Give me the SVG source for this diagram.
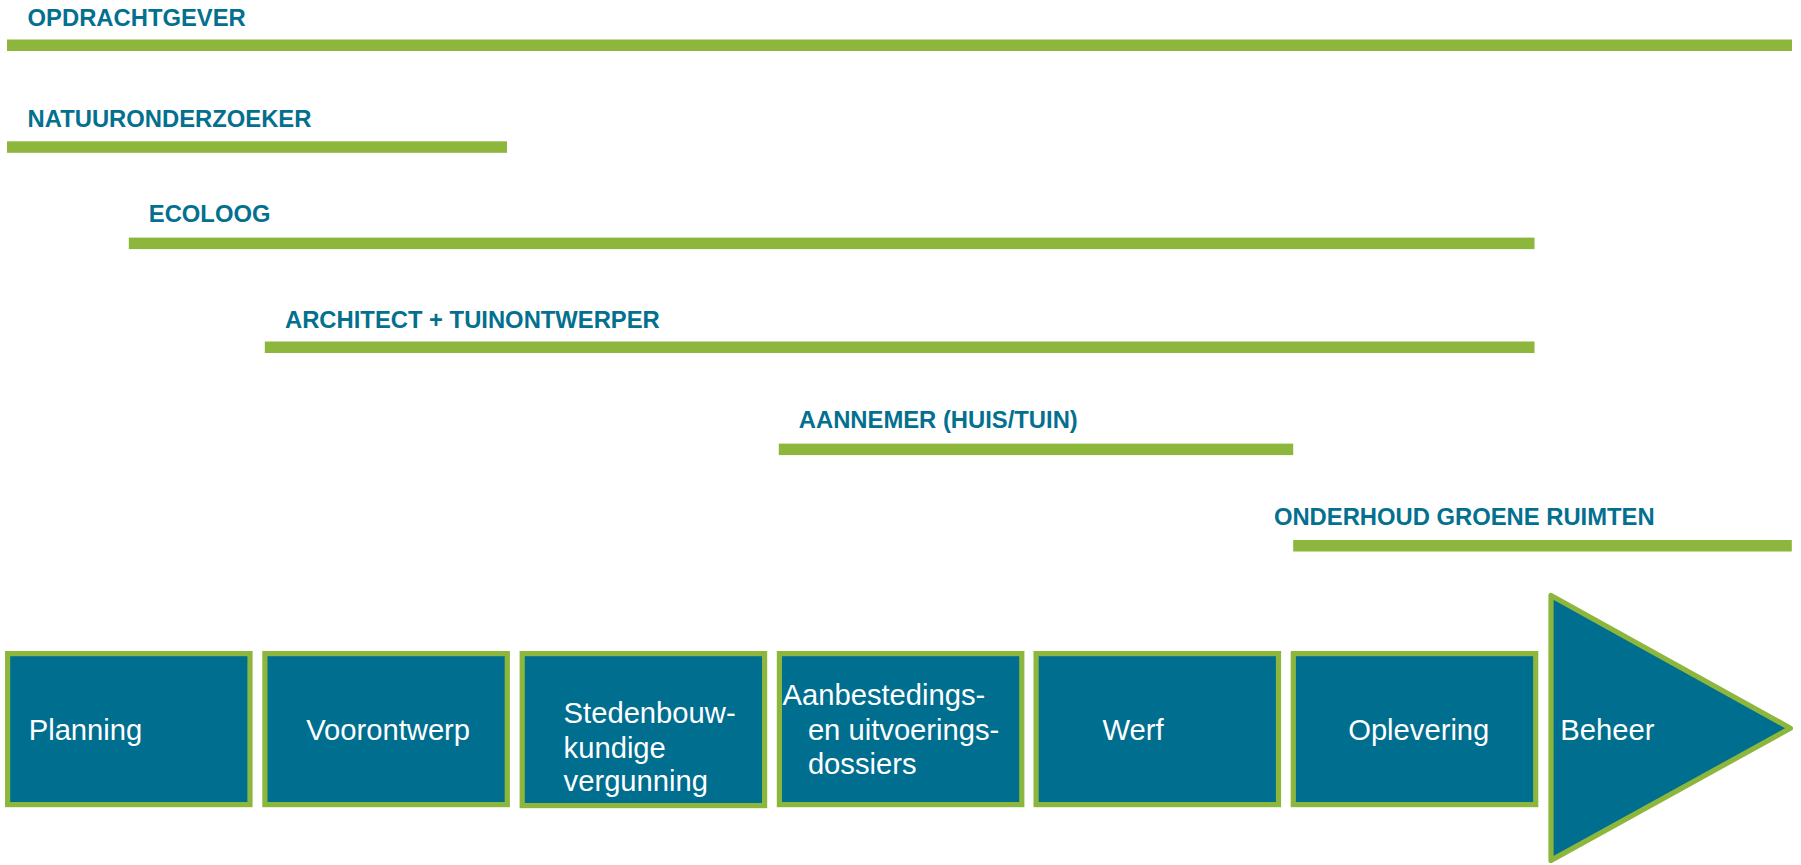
<svg xmlns="http://www.w3.org/2000/svg" width="1801" height="865" viewBox="0 0 1801 865">
<style>
.role{font-family:"Liberation Sans",Arial,sans-serif;font-weight:bold;font-size:23.8px;fill:#03708f}
.bar{fill:#8db63c}
.box{fill:#006e8f;stroke:#8db63c;stroke-width:5.2}
.tri{fill:#006e8f;stroke:#8db63c;stroke-width:5.2;stroke-linejoin:round}
.lbl{font-family:"Liberation Sans",Arial,sans-serif;font-size:29.2px;fill:#ffffff}
</style>
<rect width="1801" height="865" fill="#ffffff"/>
<g id="role-opdrachtgever">
<text class="role" x="27.6" y="26">OPDRACHTGEVER</text>
<rect class="bar" x="7" y="39.5" width="1785" height="11.5"/>
</g>
<g id="role-natuuronderzoeker">
<text class="role" x="27.6" y="126.5">NATUURONDERZOEKER</text>
<rect class="bar" x="7" y="141.3" width="500" height="11.5"/>
</g>
<g id="role-ecoloog">
<text class="role" x="148.8" y="222.3">ECOLOOG</text>
<rect class="bar" x="128.8" y="237.6" width="1405.7" height="11.5"/>
</g>
<g id="role-architect">
<text class="role" x="285" y="328">ARCHITECT + TUINONTWERPER</text>
<rect class="bar" x="264.8" y="341.5" width="1269.7" height="11.5"/>
</g>
<g id="role-aannemer">
<text class="role" x="798.8" y="428">AANNEMER (HUIS/TUIN)</text>
<rect class="bar" x="778.8" y="443.6" width="514.4" height="11.5"/>
</g>
<g id="role-onderhoud">
<text class="role" x="1273.9" y="525">ONDERHOUD GROENE RUIMTEN</text>
<rect class="bar" x="1293.2" y="540" width="498.6" height="11.5"/>
</g>
<g id="phase-planning">
<rect class="box" x="7.6" y="653.6" width="242.4" height="151"/>
<text class="lbl" x="28.7" y="740">Planning</text>
</g>
<g id="phase-voorontwerp">
<rect class="box" x="264.9" y="653.6" width="242.4" height="151"/>
<text class="lbl" x="306.2" y="740">Voorontwerp</text>
</g>
<g id="phase-stedenbouw">
<rect class="box" x="522.2" y="653.6" width="242.4" height="152"/>
<text class="lbl" x="563.6" y="723.3">Stedenbouw-</text>
<text class="lbl" x="563.6" y="757.8">kundige</text>
<text class="lbl" x="563.6" y="791">vergunning</text>
</g>
<g id="phase-aanbesteding">
<rect class="box" x="779.4" y="653.6" width="242.4" height="151"/>
<text class="lbl" x="782.5" y="705">Aanbestedings-</text>
<text class="lbl" x="807.9" y="740">en uitvoerings-</text>
<text class="lbl" x="807.9" y="773.8">dossiers</text>
</g>
<g id="phase-werf">
<rect class="box" x="1036.1" y="653.6" width="242.4" height="151"/>
<text class="lbl" x="1102.5" y="740">Werf</text>
</g>
<g id="phase-oplevering">
<rect class="box" x="1293.3" y="653.6" width="242.4" height="151"/>
<text class="lbl" x="1348.2" y="740">Oplevering</text>
</g>
<g id="phase-beheer">
<polygon class="tri" points="1551,595.4 1551,860.4 1790.4,728.2"/>
<text class="lbl" x="1560.3" y="740">Beheer</text>
</g>
</svg>
